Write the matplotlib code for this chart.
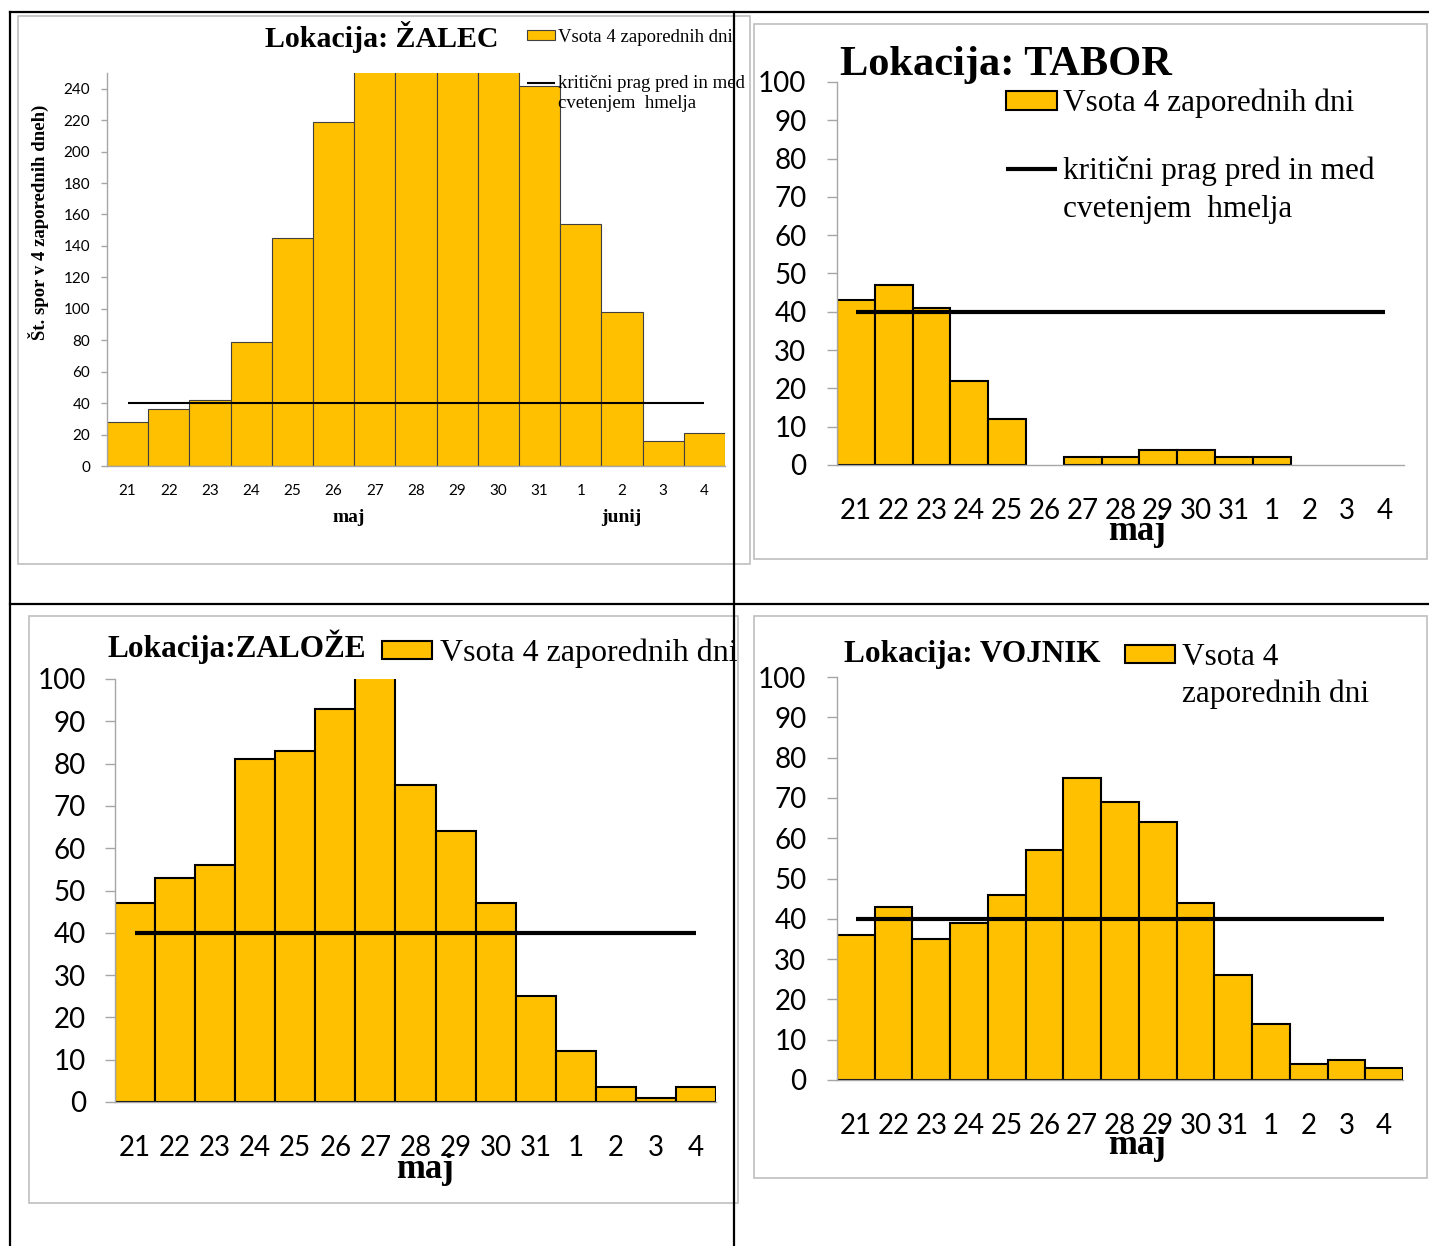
import matplotlib
matplotlib.use("Agg")
import matplotlib.pyplot as plt
from matplotlib.lines import Line2D
from matplotlib.patches import Rectangle
from matplotlib.font_manager import FontProperties

# data (sum of spores over 4 consecutive days)
days = ["21", "22", "23", "24", "25", "26", "27", "28", "29", "30", "31", "1", "2", "3", "4"]
zalec = [28, 36, 42, 79, 145, 219, 265, 290, 300, 285, 242, 154, 98, 16, 21]  # 27-30 run off the top
tabor = [43, 47, 41, 22, 12, 0, 2, 2, 4, 4, 2, 2, 0, 0, 0]
zaloze = [47, 53, 56, 81, 83, 93, 104, 75, 64, 47, 25, 12, 3.5, 1, 3.5]  # 27 runs off the top
vojnik = [36, 43, 35, 39, 46, 57, 75, 69, 64, 44, 26, 14, 4, 5, 3]
prag = 40  # critical threshold

W, H = 1429, 1246
GOLD = "#FFC000"
GRAY = "#A6A6A6"
SERIF = "Liberation Serif"

plt.rcParams['font.family'] = ['Lato', 'DejaVu Sans']

fig = plt.figure(figsize=(W / 100, H / 100), dpi=100)


def fx(x):
    return x / W


def fy(y):
    return 1 - y / H


def px_axes(left, top, right, bottom):
    return fig.add_axes([fx(left), fy(bottom), (right - left) / W, (bottom - top) / H])


def draw_chart(ax, vals, ymax, step, bar_lw, bar_ec, line_lw, fs, ytick_len, ypad, xpad):
    x = list(range(len(vals)))
    lws = [bar_lw if v > 0 else 0 for v in vals]
    bars = ax.bar(x, vals, width=1.0, color=GOLD, edgecolor=bar_ec, linewidth=lws, zorder=2)
    line, = ax.plot([0, len(vals) - 1], [prag, prag], color="black", lw=line_lw, zorder=3,
                    solid_capstyle="butt")
    ax.set_xlim(-0.5, len(vals) - 0.5)
    ax.set_ylim(0, ymax)
    ax.set_yticks(range(0, ymax + 1 if ymax % step == 0 else ymax, step))
    ax.set_xticks(x)
    ax.set_xticklabels(days)
    for s in ["top", "right"]:
        ax.spines[s].set_visible(False)
    for s in ["left", "bottom"]:
        ax.spines[s].set_color(GRAY)
        ax.spines[s].set_linewidth(1.0)
    ax.tick_params(axis="y", direction="out", length=ytick_len, width=1.0, color=GRAY,
                   pad=ypad, labelsize=fs, labelcolor="black")
    ax.tick_params(axis="x", length=0, pad=xpad, labelsize=fs, labelcolor="black")
    ax.patch.set_alpha(0)
    return bars, line


def add_legend(handles, labels, x, y, fs, hl, hh, htp, ls):
    leg = fig.legend(handles=handles, labels=labels, loc="upper left",
                     bbox_to_anchor=(fx(x), fy(y)), bbox_transform=fig.transFigure,
                     frameon=False, prop=FontProperties(family=SERIF, size=fs),
                     handlelength=hl, handleheight=hh, handletextpad=htp,
                     labelspacing=ls, borderpad=0, borderaxespad=0)
    return leg


# table grid and chart frames
for (x0, y0, x1, y1) in [(18, 16, 750, 564), (754, 24, 1427, 559),
                         (29, 616, 738, 1203), (754, 616, 1427, 1178)]:
    fig.add_artist(Rectangle((fx(x0), fy(y1)), (x1 - x0) / W, (y1 - y0) / H,
                             transform=fig.transFigure, fill=False, ec="#BFBFBF", lw=1.2, zorder=1))
for (x0, y0, x1, y1) in [(10, 12, 1429, 12), (10, 12, 10, 1246),
                         (734, 12, 734, 1246), (10, 604, 1429, 604)]:
    fig.add_artist(Line2D([fx(x0), fx(x1)], [fy(y0), fy(y1)], transform=fig.transFigure,
                          color="black", lw=1.6, zorder=5))

# ---- ŽALEC
ax1 = px_axes(107, 73, 725, 466)
b1, l1 = draw_chart(ax1, zalec, 250, 20, 0.8, "#404040", 1.5, 11, 4, 8, 13)
ax1.set_ylabel("Št. spor v 4 zaporednih dneh)", family=SERIF, weight="bold", fontsize=13.5)
ax1.yaxis.set_label_coords(fx(38), fy(222), transform=fig.transFigure)
ax1.yaxis.label.set_va("center")
fig.text(fx(265), fy(47), "Lokacija: ŽALEC", family=SERIF, weight="bold", fontsize=21.5, va="baseline")
fig.text(fx(349), fy(518), "maj", family=SERIF, weight="bold", fontsize=14, ha="center", va="center")
fig.text(fx(621), fy(518), "junij", family=SERIF, weight="bold", fontsize=14, ha="center", va="center")
leg1 = add_legend([b1, l1], ["Vsota 4 zaporednih dni", "kritični prag pred in med"],
                  527, 29, 13.5, 1.5, 0.45, 0.15, 1.57)

# ---- TABOR
ax2 = px_axes(837, 82, 1404, 465)
b2, l2 = draw_chart(ax2, tabor, 100, 10, 1.5, "black", 3, 20, 7, 15, 24)
fig.text(fx(840), fy(75), "Lokacija: TABOR", family=SERIF, weight="bold", fontsize=30.5, va="baseline")
fig.text(fx(1137), fy(532), "maj", family=SERIF, weight="bold", fontsize=25, ha="center", va="center")
leg2 = add_legend([b2, l2], ["Vsota 4 zaporednih dni", "kritični prag pred in med"],
                  1006, 89, 22.5, 1.63, 0.55, 0.2, 1.2)

# ---- ZALOŽE
ax3 = px_axes(115, 679, 716, 1102)
b3, l3 = draw_chart(ax3, zaloze, 100, 10, 1.5, "black", 3, 20, 7, 14, 24)
fig.text(fx(107), fy(657), "Lokacija:ZALOŽE", family=SERIF, weight="bold", fontsize=22.5, va="baseline")
fig.text(fx(425), fy(1170), "maj", family=SERIF, weight="bold", fontsize=25, ha="center", va="center")
leg3 = add_legend([b3], ["Vsota 4 zaporednih dni"], 382, 639, 23, 1.56, 0.5, 0.25, 0.9)

# ---- VOJNIK
ax4 = px_axes(837, 677, 1403, 1080)
b4, l4 = draw_chart(ax4, vojnik, 100, 10, 1.5, "black", 3, 20, 7, 15, 24)
fig.text(fx(844), fy(662), "Lokacija: VOJNIK", family=SERIF, weight="bold", fontsize=22.5, va="baseline")
fig.text(fx(1137), fy(1146), "maj", family=SERIF, weight="bold", fontsize=25, ha="center", va="center")
leg4 = add_legend([b4], ["Vsota 4"], 1125, 643, 22.5, 1.6, 0.5, 0.22, 0.9)

# second lines of wrapped legend labels, placed under the first line
fig.canvas.draw()
r = fig.canvas.get_renderer()
for leg, txt, gap, fs in [(leg1, "cvetenjem  hmelja", 20, 13.5), (leg2, "cvetenjem  hmelja", 38, 22.5),
                          (leg4, "zaporednih dni", 37, 22.5)]:
    bb = leg.get_texts()[-1].get_window_extent(r)
    fig.text(bb.x0 / W, (bb.y0 - gap) / H, txt, family=SERIF, fontsize=fs, va="bottom")

fig.savefig("out.png", dpi=100)
